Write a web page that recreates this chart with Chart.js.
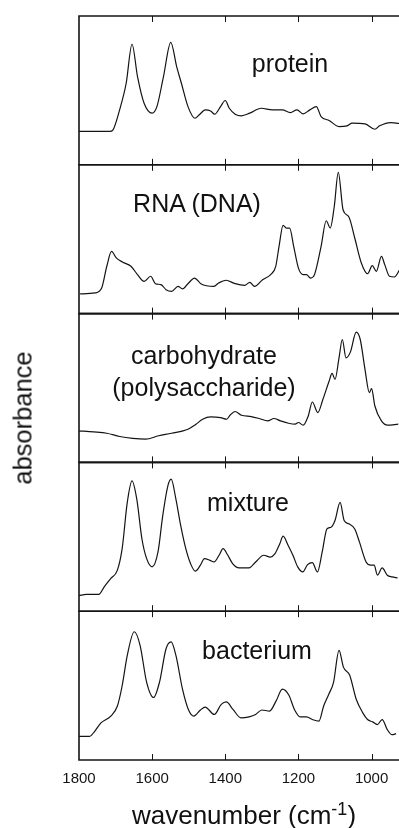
<!DOCTYPE html>
<html>
<head>
<meta charset="utf-8">
<title>IR spectra</title>
<script src="https://cdn.jsdelivr.net/npm/chart.js@4/dist/chart.umd.min.js"></script>
<style>
  html, body { margin: 0; padding: 0; background: #fff; }
  #wrap { position: relative; width: 399px; height: 828px; overflow: hidden;
          font-family: "Liberation Sans", Arial, sans-serif; color: #111; }
  #chart { position: absolute; left: 0; top: 0; }
  .lbl { position: absolute; font-size: 25px; white-space: nowrap; text-align: center;
         line-height: 32px; transform: translate(-50%, -50%); }
  #ytitle { position: absolute; left: 23px; top: 418px; font-size: 25.5px; white-space: nowrap;
            transform: translate(-50%, -50%) rotate(-90deg); }
  #xtitle { position: absolute; left: 244px; top: 815px; font-size: 26px; white-space: nowrap;
            transform: translate(-50%, -50%); }
  #xtitle sup { font-size: 18px; vertical-align: 9px; line-height: 0; }
</style>
</head>
<body>
<div id="wrap">
  <canvas id="chart" width="399" height="828"></canvas>
  <div class="lbl" style="left:290px; top:63px;">protein</div>
  <div class="lbl" style="left:197px; top:203px;">RNA (DNA)</div>
  <div class="lbl" style="left:204px; top:371px;">carbohydrate<br>(polysaccharide)</div>
  <div class="lbl" style="left:248px; top:502px;">mixture</div>
  <div class="lbl" style="left:257px; top:650px;">bacterium</div>
  <div id="ytitle">absorbance</div>
  <div id="xtitle">wavenumber (cm<sup>-1</sup>)</div>
</div>
<script>
const panels = ["protein", "RNA (DNA)", "carbohydrate (polysaccharide)", "mixture", "bacterium"];
const xTicks = [1800, 1600, 1400, 1200, 1000];

const proteinWn = [1800, 1716, 1707, 1689, 1671, 1655, 1640, 1622, 1600, 1587, 1569, 1549, 1533, 1520, 1502, 1483, 1471, 1455, 1440, 1429, 1413, 1400, 1389, 1373, 1356, 1333, 1302, 1271, 1244, 1222, 1204, 1187, 1169, 1151, 1138, 1116, 1089, 1067, 1053, 1018, 991, 978, 947, 918];
const proteinAbs = [0.224, 0.224, 0.235, 0.369, 0.548, 0.81, 0.593, 0.414, 0.347, 0.391, 0.593, 0.823, 0.66, 0.548, 0.391, 0.313, 0.336, 0.369, 0.362, 0.34, 0.391, 0.432, 0.38, 0.34, 0.329, 0.347, 0.38, 0.369, 0.369, 0.351, 0.369, 0.342, 0.369, 0.391, 0.324, 0.298, 0.257, 0.262, 0.28, 0.275, 0.239, 0.262, 0.284, 0.275];

const rnaWn = [1797, 1756, 1738, 1724, 1711, 1698, 1680, 1658, 1640, 1622, 1604, 1591, 1576, 1562, 1547, 1529, 1517, 1502, 1484, 1467, 1431, 1418, 1398, 1373, 1347, 1333, 1320, 1298, 1276, 1262, 1253, 1242, 1233, 1224, 1213, 1200, 1187, 1178, 1167, 1156, 1138, 1124, 1113, 1102, 1091, 1078, 1062, 1046, 1028, 1011, 998, 987, 973, 964, 951, 938, 923];
const rnaAbs = [0.132, 0.139, 0.172, 0.318, 0.418, 0.374, 0.345, 0.318, 0.262, 0.217, 0.251, 0.201, 0.195, 0.161, 0.15, 0.183, 0.166, 0.201, 0.239, 0.201, 0.183, 0.206, 0.224, 0.201, 0.19, 0.21, 0.183, 0.228, 0.262, 0.318, 0.452, 0.593, 0.575, 0.575, 0.452, 0.306, 0.262, 0.262, 0.239, 0.262, 0.452, 0.624, 0.575, 0.72, 0.949, 0.698, 0.649, 0.508, 0.34, 0.268, 0.322, 0.284, 0.385, 0.329, 0.251, 0.246, 0.295];

const carbWn = [1800, 1760, 1724, 1689, 1653, 1618, 1582, 1547, 1502, 1480, 1462, 1440, 1413, 1396, 1387, 1373, 1356, 1329, 1307, 1284, 1267, 1249, 1227, 1209, 1200, 1187, 1173, 1162, 1147, 1133, 1116, 1108, 1100, 1089, 1080, 1070, 1058, 1042, 1031, 1018, 1006, 1000, 991, 973, 956, 927];
const carbAbs = [0.212, 0.205, 0.196, 0.174, 0.161, 0.156, 0.179, 0.196, 0.223, 0.257, 0.29, 0.306, 0.301, 0.29, 0.317, 0.342, 0.317, 0.308, 0.295, 0.279, 0.295, 0.279, 0.263, 0.257, 0.268, 0.25, 0.313, 0.406, 0.335, 0.424, 0.547, 0.598, 0.558, 0.703, 0.826, 0.703, 0.741, 0.875, 0.826, 0.625, 0.469, 0.496, 0.379, 0.279, 0.25, 0.257];

const mixWn = [1800, 1780, 1762, 1746, 1731, 1713, 1695, 1682, 1668, 1655, 1642, 1628, 1615, 1600, 1584, 1571, 1557, 1548, 1535, 1522, 1508, 1495, 1482, 1468, 1457, 1442, 1431, 1417, 1406, 1393, 1380, 1362, 1335, 1317, 1295, 1277, 1264, 1251, 1242, 1228, 1215, 1202, 1188, 1175, 1162, 1148, 1135, 1122, 1111, 1100, 1086, 1075, 1062, 1046, 1033, 1015, 1002, 993, 984, 971, 957, 944, 929];
const mixAbs = [0.104, 0.113, 0.113, 0.113, 0.164, 0.22, 0.276, 0.42, 0.731, 0.876, 0.753, 0.487, 0.353, 0.298, 0.398, 0.642, 0.842, 0.887, 0.753, 0.576, 0.42, 0.32, 0.269, 0.309, 0.353, 0.342, 0.331, 0.376, 0.42, 0.376, 0.32, 0.291, 0.291, 0.331, 0.376, 0.364, 0.387, 0.453, 0.504, 0.442, 0.376, 0.298, 0.264, 0.313, 0.327, 0.264, 0.398, 0.553, 0.564, 0.609, 0.731, 0.609, 0.587, 0.553, 0.464, 0.331, 0.309, 0.309, 0.242, 0.291, 0.242, 0.231, 0.224];

const bactWn = [1800, 1771, 1757, 1740, 1713, 1695, 1682, 1668, 1649, 1633, 1615, 1596, 1580, 1562, 1548, 1535, 1517, 1501, 1486, 1468, 1455, 1430, 1411, 1397, 1379, 1357, 1335, 1317, 1300, 1279, 1261, 1244, 1226, 1211, 1195, 1178, 1162, 1144, 1131, 1117, 1104, 1089, 1077, 1060, 1042, 1024, 1011, 997, 984, 971, 957, 944, 933];
const bactAbs = [0.159, 0.159, 0.193, 0.249, 0.295, 0.363, 0.499, 0.703, 0.862, 0.771, 0.522, 0.42, 0.522, 0.748, 0.794, 0.703, 0.476, 0.34, 0.295, 0.336, 0.356, 0.306, 0.374, 0.39, 0.34, 0.283, 0.29, 0.306, 0.336, 0.329, 0.397, 0.476, 0.435, 0.34, 0.29, 0.29, 0.272, 0.261, 0.363, 0.442, 0.522, 0.737, 0.624, 0.571, 0.408, 0.317, 0.272, 0.256, 0.238, 0.272, 0.204, 0.17, 0.177];

const spectra = [
  [proteinWn, proteinAbs],
  [rnaWn, rnaAbs],
  [carbWn, carbAbs],
  [mixWn, mixAbs],
  [bactWn, bactAbs]
];
const panelIds = panels.map((_, i) => "p" + i);

const ink = "#141414";

// frames and inward tick marks for every stacked panel
const panelFrames = {
  id: "panelFrames",
  afterDatasetsDraw(chart) {
    const { ctx, chartArea, scales } = chart;
    const x = scales.x;
    ctx.save();
    ctx.strokeStyle = ink;
    panelIds.forEach((id) => {
      const s = scales[id];
      ctx.lineWidth = 1.6;
      ctx.beginPath();
      ctx.moveTo(chartArea.right, s.top);
      ctx.lineTo(chartArea.left, s.top);
      ctx.lineTo(chartArea.left, s.bottom);
      ctx.lineTo(chartArea.right, s.bottom);
      ctx.stroke();
      ctx.lineWidth = 1;
      ctx.beginPath();
      xTicks.forEach((v) => {
        if (v === 1800) return;
        const px = Math.round(x.getPixelForValue(v)) + 0.5;
        ctx.moveTo(px, s.top);
        ctx.lineTo(px, s.top + 6);
        ctx.moveTo(px, s.bottom);
        ctx.lineTo(px, s.bottom - 6);
      });
      ctx.stroke();
    });
    ctx.restore();
  }
};

// stacked left scales: the last one inserted ends up on top, so insert bottom panel first
const yScales = {};
panelIds.slice().reverse().forEach((id) => {
  yScales[id] = {
    type: "linear",
    position: "left",
    stack: "spectra",
    stackWeight: 1,
    min: 0,
    max: 1,
    ticks: { display: false },
    grid: { display: false },
    border: { display: false }
  };
});

new Chart(document.getElementById("chart"), {
  type: "line",
  data: {
    datasets: spectra.map(([wn, ab], i) => ({
      label: panels[i],
      yAxisID: panelIds[i],
      data: wn.map((w, k) => ({ x: w, y: ab[k] })),
      borderColor: ink,
      borderWidth: 1.2,
      pointRadius: 0,
      cubicInterpolationMode: "monotone",
      fill: false
    }))
  },
  options: {
    responsive: false,
    animation: false,
    layout: { padding: { left: 71, top: 16, right: 0, bottom: 38 } },
    plugins: { legend: { display: false }, tooltip: { enabled: false } },
    scales: {
      ...yScales,
      x: {
        type: "linear",
        reverse: true,
        min: 925,
        max: 1800,
        afterBuildTicks: (scale) => { scale.ticks = xTicks.map((v) => ({ value: v })); },
        ticks: {
          color: ink,
          padding: 2,
          maxRotation: 0,
          callback: (v) => String(v),
          font: { family: "'Liberation Sans', Arial, sans-serif", size: 15 }
        },
        grid: { display: false },
        border: { display: false }
      }
    }
  },
  plugins: [panelFrames]
});
</script>
</body>
</html>
